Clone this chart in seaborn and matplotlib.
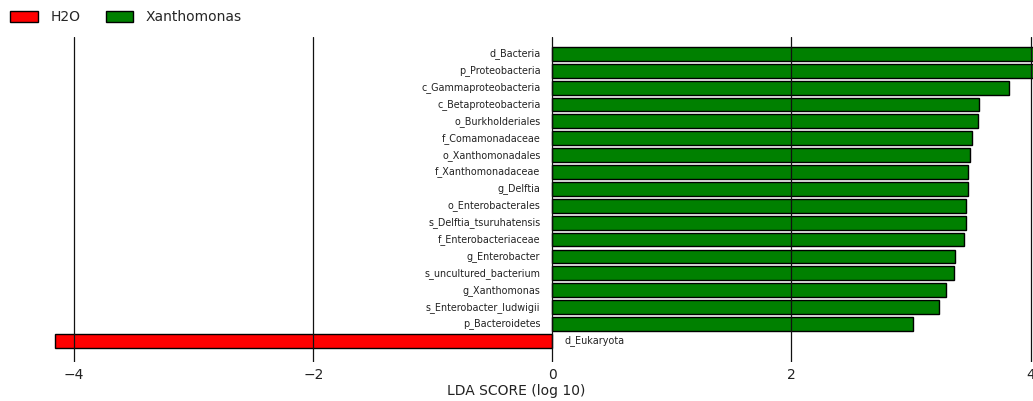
import matplotlib
matplotlib.use("Agg")
import matplotlib.pyplot as plt
from matplotlib.patches import Patch
import seaborn as sns
import pandas as pd

# LEfSe discriminant features, top to bottom
features = [
    "d_Bacteria", "p_Proteobacteria", "c_Gammaproteobacteria",
    "c_Betaproteobacteria", "o_Burkholderiales", "f_Comamonadaceae",
    "o_Xanthomonadales", "f_Xanthomonadaceae", "g_Delftia",
    "o_Enterobacterales", "s_Delftia_tsuruhatensis", "f_Enterobacteriaceae",
    "g_Enterobacter", "s_uncultured_bacterium", "g_Xanthomonas",
    "s_Enterobacter_ludwigii", "p_Bacteroidetes", "d_Eukaryota",
]
lda_scores = [
    4.25, 4.20, 3.82,
    3.57, 3.56, 3.51,
    3.49, 3.48, 3.48,
    3.46, 3.46, 3.44,
    3.37, 3.36, 3.29,
    3.23, 3.02, -4.16,
]
groups = ["Xanthomonas"] * 17 + ["H2O"]

group_order = ["H2O", "Xanthomonas"]
group_colors = {"H2O": "#ff0000", "Xanthomonas": "#008000"}

df = pd.DataFrame({"feature": features, "lda": lda_scores, "group": groups})

sns.set_style("white")
plt.rcParams["font.family"] = ["DejaVu Sans"]

fig = plt.figure(figsize=(10.33, 4.01), dpi=100)
ax = fig.add_axes([0.0, 0.0973, 1.0, 0.8105])

sns.barplot(
    data=df, x="lda", y="feature", hue="group", hue_order=group_order,
    palette=group_colors, saturation=1, orient="h", dodge=False, width=0.82,
    edgecolor="black", linewidth=1.0, legend=False, ax=ax, zorder=2,
)

# feature names next to the zero line, on the opposite side of each bar
for i, (name, val) in enumerate(zip(features, lda_scores)):
    if val >= 0:
        ax.text(-0.1, i, name, ha="right", va="center", fontsize=6.9, color="#222222")
    else:
        ax.text(0.1, i, name, ha="left", va="center", fontsize=6.9, color="#222222")

xticks = [-4, -2, 0, 2, 4]
for t in xticks:
    ax.axvline(t, color="#111111", linewidth=0.9, zorder=3)

ax.set_xlim(-4.62, 4.02)
ax.set_ylim(18.25, -1.0)
ax.set_xticks(xticks)
ax.set_xticklabels(["\u22124", "\u22122", "0", "2", "4"], fontsize=10, color="#222222")
ax.tick_params(axis="x", length=0, pad=4)
ax.set_yticks([])
ax.set_ylabel("")
ax.set_xlabel("LDA SCORE (log 10)", fontsize=10, color="#222222", labelpad=2)
for s in ax.spines.values():
    s.set_visible(False)

handles = [Patch(facecolor=group_colors[g], edgecolor="black", linewidth=1.0, label=g)
           for g in group_order]
fig.legend(handles=handles, loc="upper left", bbox_to_anchor=(0.0, 1.0), ncol=2,
           frameon=False, fontsize=10, handlelength=2.0, handleheight=0.75,
           columnspacing=1.8, handletextpad=0.9, borderaxespad=0.35)

fig.savefig("out.png", dpi=100)
